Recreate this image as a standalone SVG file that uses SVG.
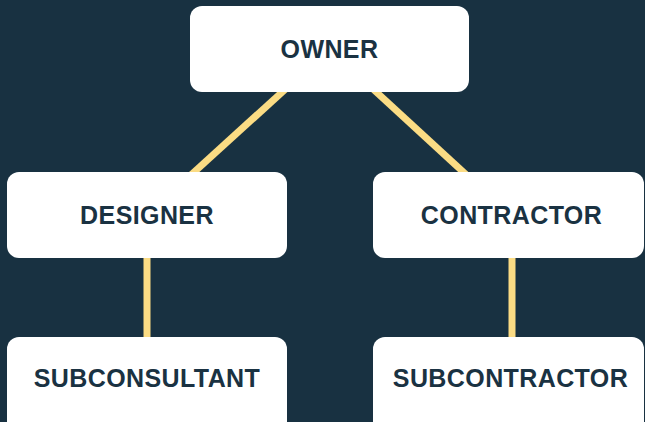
<svg xmlns="http://www.w3.org/2000/svg" width="645" height="422" viewBox="0 0 645 422">
<style>
.box{fill:#ffffff;}
.lbl{font-family:"Liberation Sans",Arial,sans-serif;font-weight:bold;font-size:25px;fill:#1a3242;text-anchor:middle;letter-spacing:0.4px;}
.conn{stroke:#fbdc84;stroke-width:7;fill:none;}
</style>
<rect width="645" height="422" fill="#183141"/>
<g id="connectors">
<line class="conn" x1="329.5" y1="49" x2="147" y2="215"/>
<line class="conn" x1="329.5" y1="49" x2="510" y2="215"/>
<line class="conn" x1="147" y1="215" x2="147" y2="380"/>
<line class="conn" x1="512" y1="215" x2="512" y2="380"/>
</g>
<g id="owner">
<rect class="box" x="190" y="6" width="279" height="86" rx="12"/>
<text class="lbl" x="329.5" y="57.5">OWNER</text>
</g>
<g id="designer">
<rect class="box" x="7" y="172" width="280" height="86" rx="12"/>
<text class="lbl" x="147" y="223.5">DESIGNER</text>
</g>
<g id="contractor">
<rect class="box" x="373" y="172" width="271" height="86" rx="12"/>
<text class="lbl" x="511.5" y="223.5">CONTRACTOR</text>
</g>
<g id="subconsultant">
<rect class="box" x="7" y="337" width="280" height="100" rx="12"/>
<text class="lbl" x="147" y="387">SUBCONSULTANT</text>
</g>
<g id="subcontractor">
<rect class="box" x="373" y="337" width="271" height="100" rx="12"/>
<text class="lbl" x="510.5" y="387">SUBCONTRACTOR</text>
</g>
</svg>
